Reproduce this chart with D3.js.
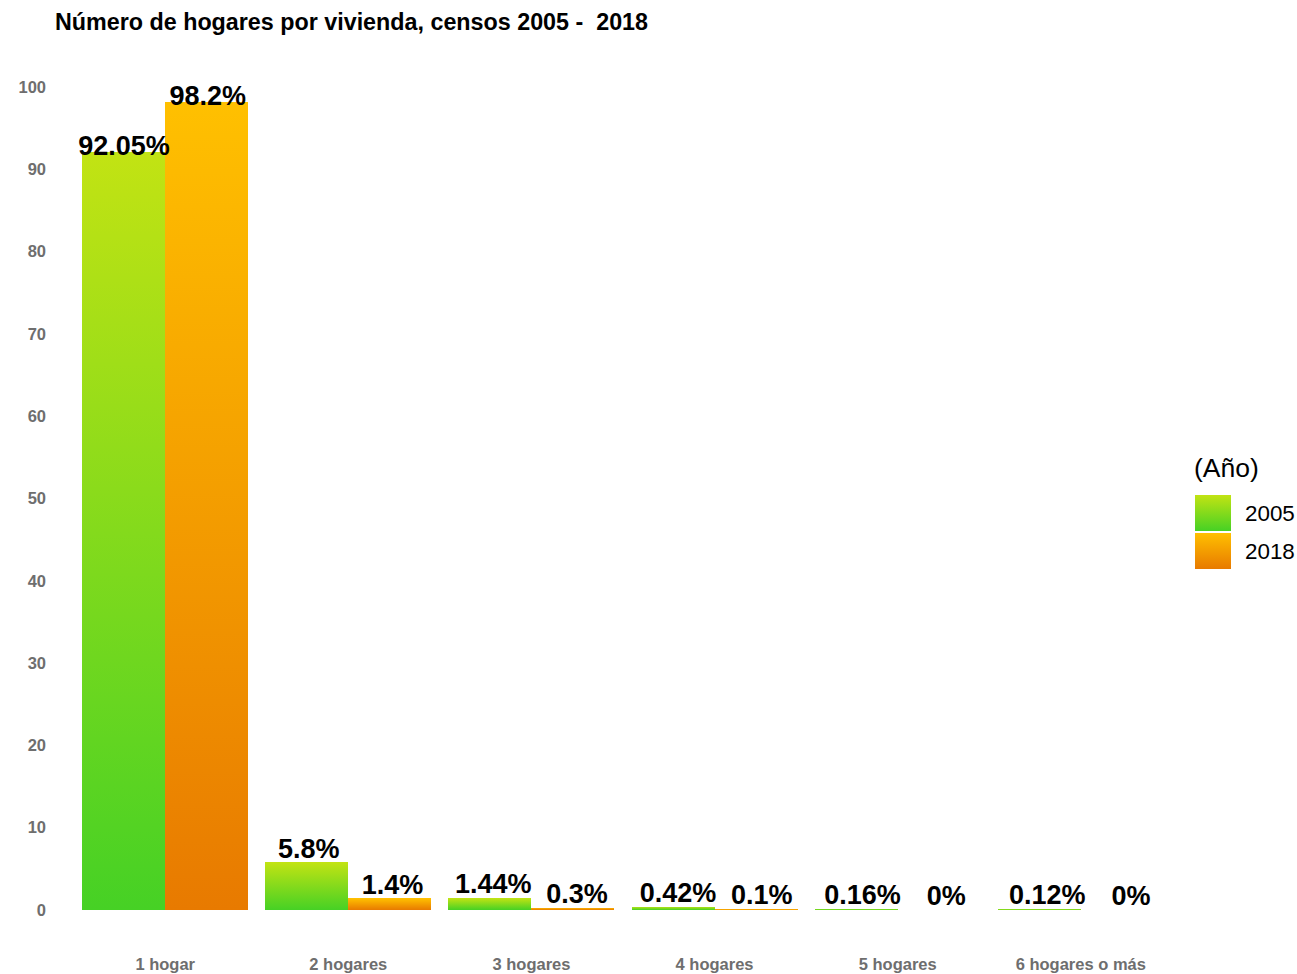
<!DOCTYPE html>
<html>
<head>
<meta charset="utf-8">
<script src="https://cdn.jsdelivr.net/npm/d3@7"></script>
<style>
  body { margin: 0; background: #fff; }
  svg { font-family: "Liberation Sans", Arial, sans-serif; }
</style>
</head>
<body>
<svg id="chart" width="1297" height="974"></svg>
<script>
// data
var categories = ['1 hogar', '2 hogares', '3 hogares', '4 hogares', '5 hogares', '6 hogares o más'];
var years = ['2005', '2018'];
var values2005 = [92.05, 5.8, 1.44, 0.42, 0.16, 0.12];
var values2018 = [98.2, 1.4, 0.3, 0.1, 0, 0];
var yTicks = [0, 10, 20, 30, 40, 50, 60, 70, 80, 90, 100];

var colours = {
	'2005': ['#c2e313', '#46d125'],
	'2018': ['#ffc000', '#e87a00']
};

function main() {
	var svg = d3.select('#chart');

	var rows = [];
	categories.forEach(function(c, i) {
		rows.push({cat: c, year: '2005', value: values2005[i]});
		rows.push({cat: c, year: '2018', value: values2018[i]});
	});

	var x = d3.scaleBand()
		.domain(categories)
		.range([73, 1173])
		.paddingInner(0.093)
		.paddingOuter(0.05);
	var xi = d3.scaleBand().domain(years).range([0, x.bandwidth()]);
	// the value labels drift a little to the right of their bars in the original
	var xLabel = x.copy().range([73, 1182]);
	var xiLabel = d3.scaleBand().domain(years).range([0, xLabel.bandwidth()]);
	var y = d3.scaleLinear().domain([0, 100]).range([910, 87]);

	// vertical gradients, one per year
	var defs = svg.append('defs');
	years.forEach(function(yr) {
		var g = defs.append('linearGradient')
			.attr('id', 'grad' + yr)
			.attr('x1', 0).attr('y1', 0).attr('x2', 0).attr('y2', 1);
		g.append('stop').attr('offset', '0%').attr('stop-color', colours[yr][0]);
		g.append('stop').attr('offset', '100%').attr('stop-color', colours[yr][1]);
	});

	svg.append('text')
		.attr('x', 55).attr('y', 30)
		.attr('font-size', 23.3).attr('font-weight', 'bold')
		.attr('fill', '#000')
		.style('white-space', 'pre')
		.text('Número de hogares por vivienda, censos 2005 -  2018');

	// y axis, labels only
	var yAxis = svg.append('g').attr('transform', 'translate(46,0)')
		.call(d3.axisLeft(y).tickValues(yTicks).tickSize(0).tickPadding(0));
	yAxis.select('.domain').remove();
	yAxis.selectAll('text')
		.attr('font-size', 16.5).attr('font-weight', 'bold')
		.attr('fill', '#6e6e6e').attr('font-family', null);

	// x axis, labels only
	var xAxis = svg.append('g').attr('transform', 'translate(0,958)')
		.call(d3.axisBottom(x).tickSize(0).tickPadding(0));
	xAxis.select('.domain').remove();
	xAxis.selectAll('text')
		.attr('font-size', 16.5).attr('font-weight', 'bold')
		.attr('fill', '#6e6e6e').attr('font-family', null);

	var bars = svg.append('g').attr('shape-rendering', 'crispEdges');
	bars.selectAll('rect').data(rows.filter(function(d) { return d.value > 0; }))
		.enter().append('rect')
		.attr('x', function(d) { return x(d.cat) + xi(d.year); })
		.attr('width', xi.bandwidth())
		.attr('y', function(d) { return y(d.value); })
		.attr('height', function(d) { return y(0) - y(d.value); })
		.attr('fill', function(d) { return 'url(#grad' + d.year + ')'; });

	var labels = svg.append('g');
	labels.selectAll('text').data(rows).enter().append('text')
		.attr('x', function(d) { return xLabel(d.cat) + xiLabel(d.year) + xiLabel.bandwidth() / 2; })
		.attr('y', function(d) { return y(d.value) - 5 + 8 * d.value / 100; })
		.attr('text-anchor', 'middle')
		.attr('font-size', 27).attr('font-weight', 'bold')
		.attr('fill', '#000')
		.text(function(d) { return d.value + '%'; });

	// legend
	var legend = svg.append('g');
	legend.append('text')
		.attr('x', 1194).attr('y', 477)
		.attr('font-size', 26.5).attr('fill', '#000')
		.text('(Año)');
	var item = legend.selectAll('g.item').data(years).enter().append('g')
		.attr('class', 'item')
		.attr('transform', function(d, i) { return 'translate(1195,' + (495 + i * 38) + ')'; });
	item.append('rect')
		.attr('width', 36).attr('height', 36)
		.attr('fill', function(d) { return 'url(#grad' + d + ')'; });
	item.append('text')
		.attr('x', 50).attr('y', 26)
		.attr('font-size', 22.4).attr('fill', '#000')
		.text(function(d) { return d; });
}

main();
</script>
</body>
</html>
